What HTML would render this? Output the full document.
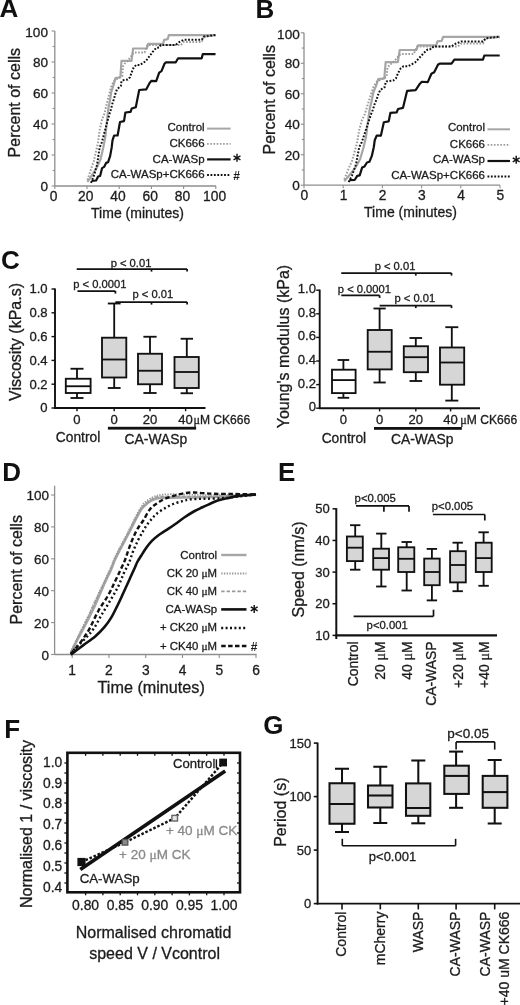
<!DOCTYPE html><html><head><meta charset="utf-8"><style>html,body{margin:0;padding:0;background:#fff;}svg{display:block;font-family:'Liberation Sans', sans-serif;filter:grayscale(100%);}text{stroke-width:0.3px;}</style></head><body>
<svg width="520" height="1005" viewBox="0 0 520 1005">
<rect width="520" height="1005" fill="#fff"/>
<text x="-0.4" y="17.3" font-size="26" text-anchor="start" fill="#111" font-weight="bold" >A</text>
<text transform="translate(19.6,102.7) rotate(-90)" font-size="16" text-anchor="middle" fill="#1c1c1c" stroke="#1c1c1c" >Percent of cells</text>
<line x1="54.8" y1="31" x2="54.8" y2="186" stroke="#8e8e8e" stroke-width="1.3" />
<line x1="54.8" y1="186" x2="216" y2="186" stroke="#8e8e8e" stroke-width="1.3" />
<line x1="51.6" y1="186" x2="54.8" y2="186" stroke="#8e8e8e" stroke-width="1.1" />
<text x="48" y="190.7" font-size="13.6" text-anchor="end" fill="#1c1c1c" stroke="#1c1c1c" font-weight="normal" >0</text>
<line x1="52.6" y1="170.5" x2="54.8" y2="170.5" stroke="#8e8e8e" stroke-width="1.1" />
<line x1="51.6" y1="155" x2="54.8" y2="155" stroke="#8e8e8e" stroke-width="1.1" />
<text x="48" y="159.7" font-size="13.6" text-anchor="end" fill="#1c1c1c" stroke="#1c1c1c" font-weight="normal" >20</text>
<line x1="52.6" y1="139.5" x2="54.8" y2="139.5" stroke="#8e8e8e" stroke-width="1.1" />
<line x1="51.6" y1="124" x2="54.8" y2="124" stroke="#8e8e8e" stroke-width="1.1" />
<text x="48" y="128.7" font-size="13.6" text-anchor="end" fill="#1c1c1c" stroke="#1c1c1c" font-weight="normal" >40</text>
<line x1="52.6" y1="108.5" x2="54.8" y2="108.5" stroke="#8e8e8e" stroke-width="1.1" />
<line x1="51.6" y1="93" x2="54.8" y2="93" stroke="#8e8e8e" stroke-width="1.1" />
<text x="48" y="97.7" font-size="13.6" text-anchor="end" fill="#1c1c1c" stroke="#1c1c1c" font-weight="normal" >60</text>
<line x1="52.6" y1="77.5" x2="54.8" y2="77.5" stroke="#8e8e8e" stroke-width="1.1" />
<line x1="51.6" y1="62" x2="54.8" y2="62" stroke="#8e8e8e" stroke-width="1.1" />
<text x="48" y="66.7" font-size="13.6" text-anchor="end" fill="#1c1c1c" stroke="#1c1c1c" font-weight="normal" >80</text>
<line x1="52.6" y1="46.5" x2="54.8" y2="46.5" stroke="#8e8e8e" stroke-width="1.1" />
<line x1="51.6" y1="31" x2="54.8" y2="31" stroke="#8e8e8e" stroke-width="1.1" />
<text x="48" y="37" font-size="13.6" text-anchor="end" fill="#1c1c1c" stroke="#1c1c1c" font-weight="normal" >100</text>
<line x1="54.8" y1="186" x2="54.8" y2="189" stroke="#8e8e8e" stroke-width="1.1" />
<text x="53.6" y="200.9" font-size="13.8" text-anchor="middle" fill="#1c1c1c" stroke="#1c1c1c" font-weight="normal" >0</text>
<line x1="87" y1="186" x2="87" y2="189" stroke="#8e8e8e" stroke-width="1.1" />
<text x="85.8" y="200.9" font-size="13.8" text-anchor="middle" fill="#1c1c1c" stroke="#1c1c1c" font-weight="normal" >20</text>
<line x1="119.2" y1="186" x2="119.2" y2="189" stroke="#8e8e8e" stroke-width="1.1" />
<text x="118" y="200.9" font-size="13.8" text-anchor="middle" fill="#1c1c1c" stroke="#1c1c1c" font-weight="normal" >40</text>
<line x1="151.4" y1="186" x2="151.4" y2="189" stroke="#8e8e8e" stroke-width="1.1" />
<text x="150.2" y="200.9" font-size="13.8" text-anchor="middle" fill="#1c1c1c" stroke="#1c1c1c" font-weight="normal" >60</text>
<line x1="183.6" y1="186" x2="183.6" y2="189" stroke="#8e8e8e" stroke-width="1.1" />
<text x="182.4" y="200.9" font-size="13.8" text-anchor="middle" fill="#1c1c1c" stroke="#1c1c1c" font-weight="normal" >80</text>
<line x1="215.8" y1="186" x2="215.8" y2="189" stroke="#8e8e8e" stroke-width="1.1" />
<text x="214.6" y="200.9" font-size="13.8" text-anchor="middle" fill="#1c1c1c" stroke="#1c1c1c" font-weight="normal" >100</text>
<text x="137.5" y="217.5" font-size="14" text-anchor="middle" fill="#1c1c1c" stroke="#1c1c1c" font-weight="normal" >Time (minutes)</text>
<polyline points="87.4,182 93,173.7 97,167.3 100.5,159.4 103.3,147.4 105.3,137 107,120.3 108.4,108.1 109.8,101.2 111.3,91.9 113.6,85 115.4,78 120.4,77.3 121.5,60.8 131.5,60.8 133.1,48.5 146.9,48.5 148.1,43.8 163.1,43.8 164.2,39.8 167.7,39.2 168.8,35.2 215.5,35.2" fill="none" stroke="#a6a6a6" stroke-width="2.2" stroke-linejoin="round" />
<polyline points="87.4,180 93.8,161 97.7,144.2 99.7,130 102,119.6 104.3,113.9 106.5,105 109,95 111.5,86 112.7,83.5 114.6,80.4 118,78.5 122.3,75.8 123,66.5 124.8,63.5 127.7,61 133.5,53 134.2,52.5 144.6,52.5 147.5,45 181,45 183.8,41.9 201.7,41.9 203.9,36.6 215.5,35.5" fill="none" stroke="#9a9a9a" stroke-width="2.0" stroke-linejoin="round" stroke-dasharray="1.6 1.6"/>
<polyline points="91.5,180.8 96.1,180.5 98.1,176.5 100.1,176 102.1,168.1 104.1,166.9 106.1,162.9 108.1,162.2 110.1,156.2 111.7,147.4 112.5,140.3 114.1,135.5 117.6,135.5 120,122 124,121.1 125.4,112.5 130.6,111.9 131.7,108.5 135.8,107.3 139.2,90 146.2,89.4 149.6,83 151.3,80.8 156.2,81.2 159.2,72.7 161.5,71.2 164.6,63.5 166,62.3 175.8,62.3 178.1,58.3 201.7,58.3 202.8,54.1 215.5,54.1" fill="none" stroke="#111" stroke-width="2.2" stroke-linejoin="round" />
<polyline points="91,182.9 93.8,176 97,165 99.7,147.4 101.7,142.6 104.1,133.9 107.5,121 109.3,114.4 111,109.2 112.4,103.5 114.2,98.3 115,94.8 117,89.3 120.8,86 121.5,81.2 122.3,80.4 127.7,79.6 130,77.3 131.5,72.7 133.8,67.3 136.2,65 140,65 145.8,61.1 152.7,51.9 156.1,47.9 159.6,47.3 160.8,45 175.8,45 178.1,42.7 183.8,39.8 201.7,39.8 203.9,36.6 215.5,35" fill="none" stroke="#111" stroke-width="2.0" stroke-linejoin="round" stroke-dasharray="1.8 1.6"/>
<text x="204.6" y="131" font-size="11.5" text-anchor="end" fill="#1c1c1c" stroke="#1c1c1c" font-weight="normal" >Control</text>
<text x="204.6" y="147.1" font-size="11.5" text-anchor="end" fill="#1c1c1c" stroke="#1c1c1c" font-weight="normal" >CK666</text>
<text x="204.6" y="163" font-size="11.5" text-anchor="end" fill="#1c1c1c" stroke="#1c1c1c" font-weight="normal" >CA-WASp</text>
<text x="204.6" y="177.6" font-size="11.5" text-anchor="end" fill="#1c1c1c" stroke="#1c1c1c" font-weight="normal" >CA-WASp+CK666</text>
<line x1="207.1" y1="128.6" x2="230.6" y2="128.6" stroke="#a6a6a6" stroke-width="2" />
<line x1="207.1" y1="143.9" x2="230.6" y2="143.9" stroke="#9a9a9a" stroke-width="1.8" stroke-dasharray="1.6 1.6"/>
<line x1="207.1" y1="159.4" x2="230.6" y2="159.4" stroke="#111" stroke-width="2.2" />
<line x1="207.1" y1="175" x2="230.6" y2="175" stroke="#111" stroke-width="2.0" stroke-dasharray="1.8 1.6"/>
<line x1="237" y1="153.8" x2="237" y2="161.8" stroke="#111" stroke-width="1.45" stroke-linecap="butt"/>
<line x1="233.54" y1="155.8" x2="240.46" y2="159.8" stroke="#111" stroke-width="1.45" stroke-linecap="butt"/>
<line x1="233.54" y1="159.8" x2="240.46" y2="155.8" stroke="#111" stroke-width="1.45" stroke-linecap="butt"/>
<text x="233.3" y="180.4" font-size="12" text-anchor="start" fill="#1c1c1c" font-weight="bold" >#</text>
<text x="255.6" y="17.7" font-size="26" text-anchor="start" fill="#111" font-weight="bold" >B</text>
<text transform="translate(274.5,99.8) rotate(-90)" font-size="16" text-anchor="middle" fill="#1c1c1c" stroke="#1c1c1c" >Percent of cells</text>
<line x1="304" y1="32.8" x2="304" y2="185.2" stroke="#8e8e8e" stroke-width="1.3" />
<line x1="304" y1="185.2" x2="500" y2="185.2" stroke="#8e8e8e" stroke-width="1.3" />
<line x1="300.8" y1="185.2" x2="304" y2="185.2" stroke="#8e8e8e" stroke-width="1.1" />
<text x="299.8" y="190.1" font-size="13.6" text-anchor="end" fill="#1c1c1c" stroke="#1c1c1c" font-weight="normal" >0</text>
<line x1="301.8" y1="169.96" x2="304" y2="169.96" stroke="#8e8e8e" stroke-width="1.1" />
<line x1="300.8" y1="154.72" x2="304" y2="154.72" stroke="#8e8e8e" stroke-width="1.1" />
<text x="299.8" y="159.62" font-size="13.6" text-anchor="end" fill="#1c1c1c" stroke="#1c1c1c" font-weight="normal" >20</text>
<line x1="301.8" y1="139.48" x2="304" y2="139.48" stroke="#8e8e8e" stroke-width="1.1" />
<line x1="300.8" y1="124.24" x2="304" y2="124.24" stroke="#8e8e8e" stroke-width="1.1" />
<text x="299.8" y="129.14" font-size="13.6" text-anchor="end" fill="#1c1c1c" stroke="#1c1c1c" font-weight="normal" >40</text>
<line x1="301.8" y1="109" x2="304" y2="109" stroke="#8e8e8e" stroke-width="1.1" />
<line x1="300.8" y1="93.76" x2="304" y2="93.76" stroke="#8e8e8e" stroke-width="1.1" />
<text x="299.8" y="98.66" font-size="13.6" text-anchor="end" fill="#1c1c1c" stroke="#1c1c1c" font-weight="normal" >60</text>
<line x1="301.8" y1="78.52" x2="304" y2="78.52" stroke="#8e8e8e" stroke-width="1.1" />
<line x1="300.8" y1="63.28" x2="304" y2="63.28" stroke="#8e8e8e" stroke-width="1.1" />
<text x="299.8" y="68.18" font-size="13.6" text-anchor="end" fill="#1c1c1c" stroke="#1c1c1c" font-weight="normal" >80</text>
<line x1="301.8" y1="48.04" x2="304" y2="48.04" stroke="#8e8e8e" stroke-width="1.1" />
<line x1="300.8" y1="32.8" x2="304" y2="32.8" stroke="#8e8e8e" stroke-width="1.1" />
<text x="299.8" y="39" font-size="13.6" text-anchor="end" fill="#1c1c1c" stroke="#1c1c1c" font-weight="normal" >100</text>
<line x1="304" y1="185.2" x2="304" y2="188.2" stroke="#8e8e8e" stroke-width="1.1" />
<text x="304.3" y="200.1" font-size="13.8" text-anchor="middle" fill="#1c1c1c" stroke="#1c1c1c" font-weight="normal" >0</text>
<line x1="343.2" y1="185.2" x2="343.2" y2="188.2" stroke="#8e8e8e" stroke-width="1.1" />
<text x="343.5" y="200.1" font-size="13.8" text-anchor="middle" fill="#1c1c1c" stroke="#1c1c1c" font-weight="normal" >1</text>
<line x1="382.4" y1="185.2" x2="382.4" y2="188.2" stroke="#8e8e8e" stroke-width="1.1" />
<text x="382.7" y="200.1" font-size="13.8" text-anchor="middle" fill="#1c1c1c" stroke="#1c1c1c" font-weight="normal" >2</text>
<line x1="421.6" y1="185.2" x2="421.6" y2="188.2" stroke="#8e8e8e" stroke-width="1.1" />
<text x="421.9" y="200.1" font-size="13.8" text-anchor="middle" fill="#1c1c1c" stroke="#1c1c1c" font-weight="normal" >3</text>
<line x1="460.8" y1="185.2" x2="460.8" y2="188.2" stroke="#8e8e8e" stroke-width="1.1" />
<text x="461.1" y="200.1" font-size="13.8" text-anchor="middle" fill="#1c1c1c" stroke="#1c1c1c" font-weight="normal" >4</text>
<line x1="500" y1="185.2" x2="500" y2="188.2" stroke="#8e8e8e" stroke-width="1.1" />
<text x="500.3" y="200.1" font-size="13.8" text-anchor="middle" fill="#1c1c1c" stroke="#1c1c1c" font-weight="normal" >5</text>
<text x="410.5" y="216.5" font-size="14" text-anchor="middle" fill="#1c1c1c" stroke="#1c1c1c" font-weight="normal" >Time (minutes)</text>
<polyline points="344.28,181.27 351.08,173.11 355.93,166.81 360.18,159.05 363.58,147.25 366,137.02 368.07,120.6 369.76,108.61 371.46,101.82 373.28,92.68 376.07,85.89 378.26,79.01 384.32,78.32 385.66,62.1 397.79,62.1 399.73,50.01 416.48,50.01 417.93,45.39 436.13,45.39 437.47,41.45 441.72,40.86 443.05,36.93 499.71,36.93" fill="none" stroke="#a6a6a6" stroke-width="2.2" stroke-linejoin="round" />
<polyline points="344.28,179.3 352.05,160.62 356.78,144.1 359.21,130.14 362,119.91 364.79,114.31 367.46,105.56 370.49,95.73 373.53,86.88 374.98,84.42 377.29,81.37 381.41,79.5 386.63,76.85 387.48,67.7 389.66,64.75 393.18,62.3 400.22,54.43 401.07,53.94 413.69,53.94 417.21,46.57 457.85,46.57 461.25,43.52 482.97,43.52 485.64,38.31 499.71,37.22" fill="none" stroke="#9a9a9a" stroke-width="2.0" stroke-linejoin="round" stroke-dasharray="1.6 1.6"/>
<polyline points="349.26,180.09 354.84,179.79 357.27,175.86 359.69,175.37 362.12,167.6 364.55,166.42 366.97,162.49 369.4,161.8 371.83,155.9 373.77,147.25 374.74,140.27 376.68,135.55 380.93,135.55 383.84,122.27 388.69,121.39 390.39,112.93 396.7,112.34 398.04,109 403.01,107.82 407.14,90.81 415.63,90.22 419.75,83.93 421.82,81.76 427.76,82.16 431.4,73.8 434.19,72.33 437.95,64.75 439.65,63.57 451.54,63.57 454.34,59.64 482.97,59.64 484.31,55.51 499.71,55.51" fill="none" stroke="#111" stroke-width="2.2" stroke-linejoin="round" />
<polyline points="348.65,182.15 352.05,175.37 355.93,164.55 359.21,147.25 361.63,142.53 364.55,133.97 368.67,121.29 370.86,114.8 372.92,109.69 374.62,104.08 376.8,98.97 377.77,95.53 380.2,90.12 384.81,86.88 385.66,82.16 386.63,81.37 393.18,80.58 395.97,78.32 397.79,73.8 400.58,68.49 403.5,66.23 408.11,66.23 415.14,62.4 423.52,53.35 427.64,49.42 431.89,48.83 433.34,46.57 451.54,46.57 454.34,44.3 461.25,41.45 482.97,41.45 485.64,38.31 499.71,36.73" fill="none" stroke="#111" stroke-width="2.0" stroke-linejoin="round" stroke-dasharray="1.8 1.6"/>
<text x="485" y="131.1" font-size="11.5" text-anchor="end" fill="#1c1c1c" stroke="#1c1c1c" font-weight="normal" >Control</text>
<text x="485" y="147.5" font-size="11.5" text-anchor="end" fill="#1c1c1c" stroke="#1c1c1c" font-weight="normal" >CK666</text>
<text x="485" y="163" font-size="11.5" text-anchor="end" fill="#1c1c1c" stroke="#1c1c1c" font-weight="normal" >CA-WASp</text>
<text x="485" y="178.6" font-size="11.5" text-anchor="end" fill="#1c1c1c" stroke="#1c1c1c" font-weight="normal" >CA-WASp+CK666</text>
<line x1="487.5" y1="129.3" x2="510" y2="129.3" stroke="#a6a6a6" stroke-width="2" />
<line x1="487.5" y1="144.9" x2="510" y2="144.9" stroke="#9a9a9a" stroke-width="1.8" stroke-dasharray="1.6 1.6"/>
<line x1="487.5" y1="161" x2="510" y2="161" stroke="#111" stroke-width="2.2" />
<line x1="487.5" y1="176.6" x2="510" y2="176.6" stroke="#111" stroke-width="2.0" stroke-dasharray="1.8 1.6"/>
<line x1="516.2" y1="155.8" x2="516.2" y2="163.8" stroke="#111" stroke-width="1.45" stroke-linecap="butt"/>
<line x1="512.74" y1="157.8" x2="519.66" y2="161.8" stroke="#111" stroke-width="1.45" stroke-linecap="butt"/>
<line x1="512.74" y1="161.8" x2="519.66" y2="157.8" stroke="#111" stroke-width="1.45" stroke-linecap="butt"/>
<text x="1" y="268.5" font-size="26" text-anchor="start" fill="#111" font-weight="bold" >C</text>
<text transform="translate(20.6,342) rotate(-90)" font-size="16" text-anchor="middle" fill="#1c1c1c" stroke="#1c1c1c" >Viscosity (kPa.s)</text>
<line x1="55" y1="288.4" x2="55" y2="408.8" stroke="#111" stroke-width="1.9" />
<line x1="54.2" y1="408" x2="205.5" y2="408" stroke="#111" stroke-width="1.9" />
<line x1="51.5" y1="408" x2="55" y2="408" stroke="#111" stroke-width="1.4" />
<text x="47.6" y="412.4" font-size="13.1" text-anchor="end" fill="#1c1c1c" stroke="#1c1c1c" font-weight="normal" >0</text>
<line x1="51.5" y1="384.2" x2="55" y2="384.2" stroke="#111" stroke-width="1.4" />
<text x="47.6" y="388.6" font-size="13.1" text-anchor="end" fill="#1c1c1c" stroke="#1c1c1c" font-weight="normal" >0.2</text>
<line x1="51.5" y1="360.4" x2="55" y2="360.4" stroke="#111" stroke-width="1.4" />
<text x="47.6" y="364.8" font-size="13.1" text-anchor="end" fill="#1c1c1c" stroke="#1c1c1c" font-weight="normal" >0.4</text>
<line x1="51.5" y1="336.6" x2="55" y2="336.6" stroke="#111" stroke-width="1.4" />
<text x="47.6" y="341" font-size="13.1" text-anchor="end" fill="#1c1c1c" stroke="#1c1c1c" font-weight="normal" >0.6</text>
<line x1="51.5" y1="312.8" x2="55" y2="312.8" stroke="#111" stroke-width="1.4" />
<text x="47.6" y="317.2" font-size="13.1" text-anchor="end" fill="#1c1c1c" stroke="#1c1c1c" font-weight="normal" >0.8</text>
<line x1="51.5" y1="289" x2="55" y2="289" stroke="#111" stroke-width="1.4" />
<text x="47.6" y="293.4" font-size="13.1" text-anchor="end" fill="#1c1c1c" stroke="#1c1c1c" font-weight="normal" >1.0</text>
<line x1="77" y1="368.75" x2="77" y2="378.75" stroke="#111" stroke-width="1.85" />
<line x1="77" y1="393" x2="77" y2="398" stroke="#111" stroke-width="1.85" />
<line x1="70.5" y1="368.75" x2="83.5" y2="368.75" stroke="#111" stroke-width="1.85" />
<line x1="70.5" y1="398" x2="83.5" y2="398" stroke="#111" stroke-width="1.85" />
<rect x="65.8" y="378.75" width="24.8" height="14.25" fill="#fff" stroke="#111" stroke-width="1.85"/>
<line x1="65.8" y1="386.25" x2="90.6" y2="386.25" stroke="#111" stroke-width="1.85" />
<line x1="114.2" y1="303.5" x2="114.2" y2="337.7" stroke="#111" stroke-width="1.85" />
<line x1="114.2" y1="377.5" x2="114.2" y2="388" stroke="#111" stroke-width="1.85" />
<line x1="107.8" y1="303.5" x2="120.6" y2="303.5" stroke="#111" stroke-width="1.85" />
<line x1="107.8" y1="388" x2="120.6" y2="388" stroke="#111" stroke-width="1.85" />
<rect x="102" y="337.7" width="24.3" height="39.8" fill="#d6d6d6" stroke="#111" stroke-width="1.85"/>
<line x1="102" y1="359.5" x2="126.3" y2="359.5" stroke="#111" stroke-width="1.85" />
<line x1="150" y1="336.75" x2="150" y2="353.75" stroke="#111" stroke-width="1.85" />
<line x1="150" y1="384.25" x2="150" y2="393" stroke="#111" stroke-width="1.85" />
<line x1="143.4" y1="336.75" x2="156.6" y2="336.75" stroke="#111" stroke-width="1.85" />
<line x1="143.4" y1="393" x2="156.6" y2="393" stroke="#111" stroke-width="1.85" />
<rect x="138" y="353.75" width="24" height="30.5" fill="#d6d6d6" stroke="#111" stroke-width="1.85"/>
<line x1="138" y1="370.75" x2="162" y2="370.75" stroke="#111" stroke-width="1.85" />
<line x1="186.8" y1="338.75" x2="186.8" y2="357" stroke="#111" stroke-width="1.85" />
<line x1="186.8" y1="388" x2="186.8" y2="393.25" stroke="#111" stroke-width="1.85" />
<line x1="180.6" y1="338.75" x2="193" y2="338.75" stroke="#111" stroke-width="1.85" />
<line x1="180.6" y1="393.25" x2="193" y2="393.25" stroke="#111" stroke-width="1.85" />
<rect x="174.5" y="357" width="24.3" height="31" fill="#d6d6d6" stroke="#111" stroke-width="1.85"/>
<line x1="174.5" y1="372" x2="198.8" y2="372" stroke="#111" stroke-width="1.85" />
<line x1="77" y1="408" x2="77" y2="411.2" stroke="#111" stroke-width="1.4" />
<text x="77" y="424" font-size="13.1" text-anchor="middle" fill="#1c1c1c" stroke="#1c1c1c" font-weight="normal" >0</text>
<line x1="114.2" y1="408" x2="114.2" y2="411.2" stroke="#111" stroke-width="1.4" />
<text x="114.2" y="424" font-size="13.1" text-anchor="middle" fill="#1c1c1c" stroke="#1c1c1c" font-weight="normal" >0</text>
<line x1="150" y1="408" x2="150" y2="411.2" stroke="#111" stroke-width="1.4" />
<text x="150" y="424" font-size="13.1" text-anchor="middle" fill="#1c1c1c" stroke="#1c1c1c" font-weight="normal" >20</text>
<line x1="185.6" y1="408" x2="185.6" y2="411.2" stroke="#111" stroke-width="1.4" />
<text x="185.6" y="424" font-size="13.1" text-anchor="middle" fill="#1c1c1c" stroke="#1c1c1c" font-weight="normal" >40</text>
<text x="193.4" y="424" font-size="12.1" text-anchor="start" fill="#1c1c1c" stroke="#1c1c1c" font-weight="normal" ><tspan font-family="Liberation Serif">μ</tspan>M CK666</text>
<rect x="107.9" y="426.8" width="88.2" height="2.8" fill="#111"/>
<text x="78" y="442.3" font-size="13.8" text-anchor="middle" fill="#1c1c1c" stroke="#1c1c1c" font-weight="normal" >Control</text>
<text x="155.9" y="443.8" font-size="13.85" text-anchor="middle" fill="#1c1c1c" stroke="#1c1c1c" font-weight="normal" >CA-WASp</text>
<line x1="76.7" y1="269" x2="187.1" y2="269" stroke="#111" stroke-width="1.75" />
<line x1="151.5" y1="269" x2="151.5" y2="271.6" stroke="#111" stroke-width="1.75" />
<line x1="187.1" y1="269" x2="187.1" y2="271.6" stroke="#111" stroke-width="1.75" />
<line x1="77.5" y1="291" x2="115.4" y2="291" stroke="#111" stroke-width="1.75" />
<line x1="115.4" y1="291" x2="115.4" y2="293.6" stroke="#111" stroke-width="1.75" />
<line x1="115.4" y1="302" x2="187.1" y2="302" stroke="#111" stroke-width="1.75" />
<line x1="151.5" y1="302" x2="151.5" y2="304.6" stroke="#111" stroke-width="1.75" />
<line x1="187.1" y1="302" x2="187.1" y2="304.6" stroke="#111" stroke-width="1.75" />
<text x="131" y="267.3" font-size="11.2" text-anchor="middle" fill="#1c1c1c" stroke="#1c1c1c" font-weight="normal" >p &lt; 0.01</text>
<text x="99.8" y="288.2" font-size="11.2" text-anchor="middle" fill="#1c1c1c" stroke="#1c1c1c" font-weight="normal" >p &lt; 0.0001</text>
<text x="152.9" y="298.2" font-size="11.2" text-anchor="middle" fill="#1c1c1c" stroke="#1c1c1c" font-weight="normal" >p &lt; 0.01</text>
<text transform="translate(289.2,346.6) rotate(-90)" font-size="16" text-anchor="middle" fill="#1c1c1c" stroke="#1c1c1c" >Young's modulus (kPa)</text>
<line x1="319.7" y1="289.6" x2="319.7" y2="409" stroke="#111" stroke-width="1.9" />
<line x1="318.9" y1="408.2" x2="480" y2="408.2" stroke="#111" stroke-width="1.9" />
<line x1="316.2" y1="408.2" x2="319.7" y2="408.2" stroke="#111" stroke-width="1.4" />
<text x="316" y="411.2" font-size="13.1" text-anchor="end" fill="#1c1c1c" stroke="#1c1c1c" font-weight="normal" >0</text>
<line x1="316.2" y1="384.6" x2="319.7" y2="384.6" stroke="#111" stroke-width="1.4" />
<text x="316" y="387.6" font-size="13.1" text-anchor="end" fill="#1c1c1c" stroke="#1c1c1c" font-weight="normal" >0.2</text>
<line x1="316.2" y1="361" x2="319.7" y2="361" stroke="#111" stroke-width="1.4" />
<text x="316" y="364" font-size="13.1" text-anchor="end" fill="#1c1c1c" stroke="#1c1c1c" font-weight="normal" >0.4</text>
<line x1="316.2" y1="337.4" x2="319.7" y2="337.4" stroke="#111" stroke-width="1.4" />
<text x="316" y="340.4" font-size="13.1" text-anchor="end" fill="#1c1c1c" stroke="#1c1c1c" font-weight="normal" >0.6</text>
<line x1="316.2" y1="313.8" x2="319.7" y2="313.8" stroke="#111" stroke-width="1.4" />
<text x="316" y="316.8" font-size="13.1" text-anchor="end" fill="#1c1c1c" stroke="#1c1c1c" font-weight="normal" >0.8</text>
<line x1="316.2" y1="290.2" x2="319.7" y2="290.2" stroke="#111" stroke-width="1.4" />
<text x="316" y="293.2" font-size="13.1" text-anchor="end" fill="#1c1c1c" stroke="#1c1c1c" font-weight="normal" >1.0</text>
<line x1="343.4" y1="360" x2="343.4" y2="369.7" stroke="#111" stroke-width="1.85" />
<line x1="343.4" y1="393.1" x2="343.4" y2="397.8" stroke="#111" stroke-width="1.85" />
<line x1="337.6" y1="360" x2="349.2" y2="360" stroke="#111" stroke-width="1.85" />
<line x1="337.6" y1="397.8" x2="349.2" y2="397.8" stroke="#111" stroke-width="1.85" />
<rect x="332" y="369.7" width="23.6" height="23.4" fill="#fff" stroke="#111" stroke-width="1.85"/>
<line x1="332" y1="380.1" x2="355.6" y2="380.1" stroke="#111" stroke-width="1.85" />
<line x1="379.6" y1="308.5" x2="379.6" y2="330" stroke="#111" stroke-width="1.85" />
<line x1="379.6" y1="369.4" x2="379.6" y2="382.5" stroke="#111" stroke-width="1.85" />
<line x1="373.5" y1="308.5" x2="385.7" y2="308.5" stroke="#111" stroke-width="1.85" />
<line x1="373.5" y1="382.5" x2="385.7" y2="382.5" stroke="#111" stroke-width="1.85" />
<rect x="367.7" y="330" width="24" height="39.4" fill="#d6d6d6" stroke="#111" stroke-width="1.85"/>
<line x1="367.7" y1="351.75" x2="391.7" y2="351.75" stroke="#111" stroke-width="1.85" />
<line x1="415.8" y1="338" x2="415.8" y2="346.25" stroke="#111" stroke-width="1.85" />
<line x1="415.8" y1="372.2" x2="415.8" y2="381" stroke="#111" stroke-width="1.85" />
<line x1="409.5" y1="338" x2="422.1" y2="338" stroke="#111" stroke-width="1.85" />
<line x1="409.5" y1="381" x2="422.1" y2="381" stroke="#111" stroke-width="1.85" />
<rect x="403.8" y="346.25" width="24.2" height="25.95" fill="#d6d6d6" stroke="#111" stroke-width="1.85"/>
<line x1="403.8" y1="357.2" x2="428" y2="357.2" stroke="#111" stroke-width="1.85" />
<line x1="451.8" y1="327.2" x2="451.8" y2="347.5" stroke="#111" stroke-width="1.85" />
<line x1="451.8" y1="384.7" x2="451.8" y2="400.6" stroke="#111" stroke-width="1.85" />
<line x1="445.3" y1="327.2" x2="458.3" y2="327.2" stroke="#111" stroke-width="1.85" />
<line x1="445.3" y1="400.6" x2="458.3" y2="400.6" stroke="#111" stroke-width="1.85" />
<rect x="440" y="347.5" width="24.2" height="37.2" fill="#d6d6d6" stroke="#111" stroke-width="1.85"/>
<line x1="440" y1="362.5" x2="464.2" y2="362.5" stroke="#111" stroke-width="1.85" />
<line x1="343.4" y1="408.2" x2="343.4" y2="411.4" stroke="#111" stroke-width="1.4" />
<text x="343.4" y="424.2" font-size="13.1" text-anchor="middle" fill="#1c1c1c" stroke="#1c1c1c" font-weight="normal" >0</text>
<line x1="379.6" y1="408.2" x2="379.6" y2="411.4" stroke="#111" stroke-width="1.4" />
<text x="379.6" y="424.2" font-size="13.1" text-anchor="middle" fill="#1c1c1c" stroke="#1c1c1c" font-weight="normal" >0</text>
<line x1="415.8" y1="408.2" x2="415.8" y2="411.4" stroke="#111" stroke-width="1.4" />
<text x="415.8" y="424.2" font-size="13.1" text-anchor="middle" fill="#1c1c1c" stroke="#1c1c1c" font-weight="normal" >20</text>
<line x1="450.6" y1="408.2" x2="450.6" y2="411.4" stroke="#111" stroke-width="1.4" />
<text x="450.6" y="424.2" font-size="13.1" text-anchor="middle" fill="#1c1c1c" stroke="#1c1c1c" font-weight="normal" >40</text>
<text x="460.3" y="424.2" font-size="12.1" text-anchor="start" fill="#1c1c1c" stroke="#1c1c1c" font-weight="normal" ><tspan font-family="Liberation Serif">μ</tspan>M CK666</text>
<rect x="374" y="427" width="87.8" height="2.8" fill="#111"/>
<text x="343.9" y="442.5" font-size="13.8" text-anchor="middle" fill="#1c1c1c" stroke="#1c1c1c" font-weight="normal" >Control</text>
<text x="422.2" y="444" font-size="13.85" text-anchor="middle" fill="#1c1c1c" stroke="#1c1c1c" font-weight="normal" >CA-WASp</text>
<line x1="341.25" y1="273" x2="451.5" y2="273" stroke="#111" stroke-width="1.75" />
<line x1="415.8" y1="273" x2="415.8" y2="275.6" stroke="#111" stroke-width="1.75" />
<line x1="451.5" y1="273" x2="451.5" y2="275.6" stroke="#111" stroke-width="1.75" />
<line x1="341.25" y1="295.3" x2="379.6" y2="295.3" stroke="#111" stroke-width="1.75" />
<line x1="379.6" y1="295.3" x2="379.6" y2="297.9" stroke="#111" stroke-width="1.75" />
<line x1="379.6" y1="305.5" x2="451.5" y2="305.5" stroke="#111" stroke-width="1.75" />
<line x1="415.8" y1="305.5" x2="415.8" y2="308.1" stroke="#111" stroke-width="1.75" />
<line x1="451.5" y1="305.5" x2="451.5" y2="308.1" stroke="#111" stroke-width="1.75" />
<text x="395" y="269.8" font-size="11.2" text-anchor="middle" fill="#1c1c1c" stroke="#1c1c1c" font-weight="normal" >p &lt; 0.01</text>
<text x="364.4" y="292.6" font-size="11.2" text-anchor="middle" fill="#1c1c1c" stroke="#1c1c1c" font-weight="normal" >p &lt; 0.0001</text>
<text x="414.8" y="302" font-size="11.2" text-anchor="middle" fill="#1c1c1c" stroke="#1c1c1c" font-weight="normal" >p &lt; 0.01</text>
<text x="2.3" y="480.8" font-size="26" text-anchor="start" fill="#111" font-weight="bold" >D</text>
<text transform="translate(22,569.8) rotate(-90)" font-size="16" text-anchor="middle" fill="#1c1c1c" stroke="#1c1c1c" >Percent of cells</text>
<line x1="54.6" y1="485.8" x2="54.6" y2="654.5" stroke="#8e8e8e" stroke-width="1.3" />
<line x1="54.6" y1="654.5" x2="256.5" y2="654.5" stroke="#8e8e8e" stroke-width="1.3" />
<line x1="51.1" y1="654.5" x2="54.6" y2="654.5" stroke="#8e8e8e" stroke-width="1.1" />
<text x="49.1" y="659.7" font-size="13.5" text-anchor="end" fill="#1c1c1c" stroke="#1c1c1c" font-weight="normal" >0</text>
<line x1="51.1" y1="622.6" x2="54.6" y2="622.6" stroke="#8e8e8e" stroke-width="1.1" />
<text x="49.1" y="627.8" font-size="13.5" text-anchor="end" fill="#1c1c1c" stroke="#1c1c1c" font-weight="normal" >20</text>
<line x1="51.1" y1="590.7" x2="54.6" y2="590.7" stroke="#8e8e8e" stroke-width="1.1" />
<text x="49.1" y="595.9" font-size="13.5" text-anchor="end" fill="#1c1c1c" stroke="#1c1c1c" font-weight="normal" >40</text>
<line x1="51.1" y1="558.8" x2="54.6" y2="558.8" stroke="#8e8e8e" stroke-width="1.1" />
<text x="49.1" y="564" font-size="13.5" text-anchor="end" fill="#1c1c1c" stroke="#1c1c1c" font-weight="normal" >60</text>
<line x1="51.1" y1="526.9" x2="54.6" y2="526.9" stroke="#8e8e8e" stroke-width="1.1" />
<text x="49.1" y="532.1" font-size="13.5" text-anchor="end" fill="#1c1c1c" stroke="#1c1c1c" font-weight="normal" >80</text>
<line x1="51.1" y1="495" x2="54.6" y2="495" stroke="#8e8e8e" stroke-width="1.1" />
<text x="49.1" y="500.2" font-size="13.5" text-anchor="end" fill="#1c1c1c" stroke="#1c1c1c" font-weight="normal" >100</text>
<line x1="72.2" y1="654.5" x2="72.2" y2="658" stroke="#8e8e8e" stroke-width="1.1" />
<text x="72.2" y="675" font-size="13.8" text-anchor="middle" fill="#1c1c1c" stroke="#1c1c1c" font-weight="normal" >1</text>
<line x1="108.96" y1="654.5" x2="108.96" y2="658" stroke="#8e8e8e" stroke-width="1.1" />
<text x="108.96" y="675" font-size="13.8" text-anchor="middle" fill="#1c1c1c" stroke="#1c1c1c" font-weight="normal" >2</text>
<line x1="145.72" y1="654.5" x2="145.72" y2="658" stroke="#8e8e8e" stroke-width="1.1" />
<text x="145.72" y="675" font-size="13.8" text-anchor="middle" fill="#1c1c1c" stroke="#1c1c1c" font-weight="normal" >3</text>
<line x1="182.48" y1="654.5" x2="182.48" y2="658" stroke="#8e8e8e" stroke-width="1.1" />
<text x="182.48" y="675" font-size="13.8" text-anchor="middle" fill="#1c1c1c" stroke="#1c1c1c" font-weight="normal" >4</text>
<line x1="219.24" y1="654.5" x2="219.24" y2="658" stroke="#8e8e8e" stroke-width="1.1" />
<text x="219.24" y="675" font-size="13.8" text-anchor="middle" fill="#1c1c1c" stroke="#1c1c1c" font-weight="normal" >5</text>
<line x1="256" y1="654.5" x2="256" y2="658" stroke="#8e8e8e" stroke-width="1.1" />
<text x="256" y="675" font-size="13.8" text-anchor="middle" fill="#1c1c1c" stroke="#1c1c1c" font-weight="normal" >6</text>
<text x="151.2" y="693.3" font-size="16.2" text-anchor="middle" fill="#1c1c1c" stroke="#1c1c1c" font-weight="normal" >Time (minutes)</text>
<path d="M70.8,653 C72.05,650.5 75.68,643.08 78.3,638 C80.92,632.92 83.63,628.13 86.5,622.5 C89.37,616.87 92.55,610.62 95.5,604.2 C98.45,597.78 101.62,589.77 104.2,584 C106.78,578.23 109.23,573.6 111,569.6 C112.77,565.6 113.27,563.4 114.8,560 C116.33,556.6 118.17,553.12 120.2,549.2 C122.23,545.28 124.77,540.77 127,536.5 C129.23,532.23 131.68,527.35 133.6,523.6 C135.52,519.85 136.92,516.77 138.5,514 C140.08,511.23 141,509.23 143.1,507 C145.2,504.77 148.42,502.12 151.1,500.6 C153.78,499.08 155.55,498.4 159.2,497.9 C162.85,497.4 166.2,497.7 173,497.6 C179.8,497.5 190.5,497.53 200,497.3 C209.5,497.07 220.67,496.62 230,496.2 C239.33,495.78 251.67,495.03 256,494.8" fill="none" stroke="#a6a6a6" stroke-width="2.6" stroke-linecap="butt" />
<path d="M70.8,652.5 C72,649.97 75.47,642.45 78,637.3 C80.53,632.15 83.23,627.28 86,621.6 C88.77,615.92 91.57,609.63 94.6,603.2 C97.63,596.77 101.47,588.78 104.2,583 C106.93,577.22 109.23,572.5 111,568.5 C112.77,564.5 113.27,562.38 114.8,559 C116.33,555.62 118.17,552.15 120.2,548.2 C122.23,544.25 124.77,539.6 127,535.3 C129.23,531 131.68,526.15 133.6,522.4 C135.52,518.65 136.8,515.6 138.5,512.8 C140.2,510 141.47,507.9 143.8,505.6 C146.13,503.3 149.72,500.5 152.5,499 C155.28,497.5 156.75,497.05 160.5,496.6 C164.25,496.15 168.42,496.3 175,496.3 C181.58,496.3 190.83,496.72 200,496.6 C209.17,496.48 220.67,495.92 230,495.6 C239.33,495.28 251.67,494.85 256,494.7" fill="none" stroke="#9a9a9a" stroke-width="1.7" stroke-linecap="butt" stroke-dasharray="3.4 2"/>
<path d="M70.8,652 C72,649.42 75.47,641.75 78,636.5 C80.53,631.25 83.23,626.25 86,620.5 C88.77,614.75 91.57,608.5 94.6,602 C97.63,595.5 101.47,587.33 104.2,581.5 C106.93,575.67 109.23,571 111,567 C112.77,563 113.27,560.87 114.8,557.5 C116.33,554.13 118.17,550.72 120.2,546.8 C122.23,542.88 124.77,538.3 127,534 C129.23,529.7 131.68,524.75 133.6,521 C135.52,517.25 136.7,514.53 138.5,511.5 C140.3,508.47 141.85,505.27 144.4,502.8 C146.95,500.33 150.88,498.05 153.8,496.7 C156.72,495.35 158.37,495.12 161.9,494.7 C165.43,494.28 168.65,494.15 175,494.2 C181.35,494.25 190.83,494.9 200,495 C209.17,495.1 220.67,494.88 230,494.8 C239.33,494.72 251.67,494.55 256,494.5" fill="none" stroke="#9a9a9a" stroke-width="1.7" stroke-linecap="butt" stroke-dasharray="1.4 1.3"/>
<path d="M70.8,654.6 C72.85,653.07 79,648.47 83.1,645.4 C87.2,642.33 91.82,639.28 95.4,636.2 C98.98,633.12 101.97,629.98 104.6,626.9 C107.23,623.82 108.95,621.48 111.2,617.7 C113.45,613.92 116.08,608.32 118.1,604.2 C120.12,600.08 121.38,597.17 123.3,593 C125.22,588.83 127.68,583.42 129.6,579.2 C131.52,574.98 133.52,570.57 134.8,567.7 C136.08,564.83 136.25,563.98 137.3,562 C138.35,560.02 139.6,558.18 141.1,555.8 C142.6,553.42 144.5,550.2 146.3,547.7 C148.1,545.2 149.82,542.92 151.9,540.8 C153.98,538.68 156.48,536.73 158.8,535 C161.12,533.27 163.1,532.18 165.8,530.4 C168.5,528.62 171.87,526.48 175,524.3 C178.13,522.12 181.47,519.43 184.6,517.3 C187.73,515.17 190.92,513.13 193.8,511.5 C196.68,509.87 199.33,508.72 201.9,507.5 C204.47,506.28 206.43,505.42 209.2,504.2 C211.97,502.98 215.23,501.25 218.5,500.2 C221.77,499.15 225.73,498.58 228.8,497.9 C231.87,497.22 232.47,496.68 236.9,496.1 C241.33,495.52 252.32,494.68 255.4,494.4" fill="none" stroke="#111" stroke-width="2.6" stroke-linecap="butt" />
<path d="M70.8,654 C71.83,652.75 74.43,649.25 77,646.5 C79.57,643.75 83.38,640.53 86.2,637.5 C89.02,634.47 91.33,632.08 93.9,628.3 C96.47,624.52 98.87,619.45 101.6,614.8 C104.33,610.15 107.57,605.05 110.3,600.4 C113.03,595.75 115.77,591.38 118,586.9 C120.23,582.42 121.83,577.6 123.7,573.5 C125.57,569.4 127.62,566.05 129.2,562.3 C130.78,558.55 131.7,554.72 133.2,551 C134.7,547.28 136.58,543.25 138.2,540 C139.82,536.75 141.4,534.08 142.9,531.5 C144.4,528.92 145.63,526.7 147.2,524.5 C148.77,522.3 150.67,520.13 152.3,518.3 C153.93,516.47 154.88,515.2 157,513.5 C159.12,511.8 162.32,509.68 165,508.1 C167.68,506.52 170.22,505.15 173.1,504 C175.98,502.85 179.42,501.97 182.3,501.2 C185.18,500.43 187.13,499.8 190.4,499.4 C193.67,499 197.8,498.95 201.9,498.8 C206,498.65 210.32,498.72 215,498.5 C219.68,498.28 223.17,498.17 230,497.5 C236.83,496.83 251.67,495 256,494.5" fill="none" stroke="#111" stroke-width="2.4" stroke-linecap="butt" stroke-dasharray="2 2.6"/>
<path d="M70.8,654 C71.57,653.08 73.48,650.83 75.4,648.5 C77.32,646.17 79.92,643.37 82.3,640 C84.68,636.63 87.03,633.13 89.7,628.3 C92.37,623.47 95.25,616.45 98.3,611 C101.35,605.55 105.27,600.42 108,595.6 C110.73,590.78 112.67,586.27 114.7,582.1 C116.73,577.93 118.48,574.28 120.2,570.6 C121.92,566.92 123.65,563.38 125,560 C126.35,556.62 127.13,553.55 128.3,550.3 C129.47,547.05 130.7,543.63 132,540.5 C133.3,537.37 134.85,533.95 136.1,531.5 C137.35,529.05 138.25,527.72 139.5,525.8 C140.75,523.88 141.85,522.77 143.6,520 C145.35,517.23 147.78,511.95 150,509.2 C152.22,506.45 154.4,505.23 156.9,503.5 C159.4,501.77 161.92,500.15 165,498.8 C168.08,497.45 172.13,496.35 175.4,495.4 C178.67,494.45 181.53,493.58 184.6,493.1 C187.67,492.62 190.72,492.5 193.8,492.5 C196.88,492.5 199.57,492.88 203.1,493.1 C206.63,493.32 209.68,493.65 215,493.8 C220.32,493.95 228.17,493.88 235,494 C241.83,494.12 252.5,494.42 256,494.5" fill="none" stroke="#111" stroke-width="2.4" stroke-linecap="butt" stroke-dasharray="4.5 2.6"/>
<text x="217.1" y="559" font-size="11.4" text-anchor="end" fill="#1c1c1c" stroke="#1c1c1c" font-weight="normal" >Control</text>
<text x="217.1" y="576.9" font-size="11.4" text-anchor="end" fill="#1c1c1c" stroke="#1c1c1c" font-weight="normal" >CK 20 <tspan font-family="Liberation Serif">μ</tspan>M</text>
<text x="217.1" y="595.2" font-size="11.4" text-anchor="end" fill="#1c1c1c" stroke="#1c1c1c" font-weight="normal" >CK 40 <tspan font-family="Liberation Serif">μ</tspan>M</text>
<text x="217.1" y="612.9" font-size="11.4" text-anchor="end" fill="#1c1c1c" stroke="#1c1c1c" font-weight="normal" >CA-WASp</text>
<text x="217.1" y="631.1" font-size="11.4" text-anchor="end" fill="#1c1c1c" stroke="#1c1c1c" font-weight="normal" >+ CK20 <tspan font-family="Liberation Serif">μ</tspan>M</text>
<text x="217.1" y="649.6" font-size="11.4" text-anchor="end" fill="#1c1c1c" stroke="#1c1c1c" font-weight="normal" >+ CK40 <tspan font-family="Liberation Serif">μ</tspan>M</text>
<line x1="221.2" y1="555" x2="246.5" y2="555" stroke="#a6a6a6" stroke-width="2.4" />
<line x1="221.2" y1="573.5" x2="246.5" y2="573.5" stroke="#9a9a9a" stroke-width="1.8" stroke-dasharray="1.4 1.3"/>
<line x1="221.2" y1="591.4" x2="246.5" y2="591.4" stroke="#9a9a9a" stroke-width="1.8" stroke-dasharray="3.4 2"/>
<line x1="221.2" y1="609.4" x2="246.5" y2="609.4" stroke="#111" stroke-width="2.6" />
<line x1="221.2" y1="628" x2="246.5" y2="628" stroke="#111" stroke-width="2.4" stroke-dasharray="2 2.4"/>
<line x1="221.2" y1="646" x2="246.5" y2="646" stroke="#111" stroke-width="2.4" stroke-dasharray="4.5 2.4"/>
<line x1="254.2" y1="604.9" x2="254.2" y2="612.9" stroke="#111" stroke-width="1.45" stroke-linecap="butt"/>
<line x1="250.74" y1="606.9" x2="257.66" y2="610.9" stroke="#111" stroke-width="1.45" stroke-linecap="butt"/>
<line x1="250.74" y1="610.9" x2="257.66" y2="606.9" stroke="#111" stroke-width="1.45" stroke-linecap="butt"/>
<text x="250.8" y="650.8" font-size="12" text-anchor="start" fill="#1c1c1c" font-weight="bold" >#</text>
<text x="278" y="480.8" font-size="26" text-anchor="start" fill="#111" font-weight="bold" >E</text>
<text transform="translate(304.2,569.4) rotate(-90)" font-size="16" text-anchor="middle" fill="#1c1c1c" stroke="#1c1c1c" >Speed (nm/s)</text>
<line x1="336.3" y1="508.2" x2="336.3" y2="639" stroke="#111" stroke-width="2.0" />
<line x1="335.4" y1="635.4" x2="497" y2="635.4" stroke="#111" stroke-width="2.1" />
<line x1="332.5" y1="635.4" x2="336.3" y2="635.4" stroke="#111" stroke-width="1.5" />
<text x="329.7" y="640" font-size="13" text-anchor="end" fill="#1c1c1c" stroke="#1c1c1c" font-weight="normal" >10</text>
<line x1="332.5" y1="603.75" x2="336.3" y2="603.75" stroke="#111" stroke-width="1.5" />
<text x="329.7" y="608.35" font-size="13" text-anchor="end" fill="#1c1c1c" stroke="#1c1c1c" font-weight="normal" >20</text>
<line x1="332.5" y1="572.1" x2="336.3" y2="572.1" stroke="#111" stroke-width="1.5" />
<text x="329.7" y="576.7" font-size="13" text-anchor="end" fill="#1c1c1c" stroke="#1c1c1c" font-weight="normal" >30</text>
<line x1="332.5" y1="540.45" x2="336.3" y2="540.45" stroke="#111" stroke-width="1.5" />
<text x="329.7" y="545.05" font-size="13" text-anchor="end" fill="#1c1c1c" stroke="#1c1c1c" font-weight="normal" >40</text>
<line x1="332.5" y1="508.8" x2="336.3" y2="508.8" stroke="#111" stroke-width="1.5" />
<text x="329.7" y="513.4" font-size="13" text-anchor="end" fill="#1c1c1c" stroke="#1c1c1c" font-weight="normal" >50</text>
<line x1="355.2" y1="525.2" x2="355.2" y2="536.5" stroke="#111" stroke-width="1.85" />
<line x1="355.2" y1="561.1" x2="355.2" y2="569.7" stroke="#111" stroke-width="1.85" />
<line x1="350" y1="525.2" x2="360.4" y2="525.2" stroke="#111" stroke-width="1.85" />
<line x1="350" y1="569.7" x2="360.4" y2="569.7" stroke="#111" stroke-width="1.85" />
<rect x="346.9" y="536.5" width="15.9" height="24.6" fill="#d6d6d6" stroke="#111" stroke-width="1.85"/>
<line x1="346.9" y1="547.7" x2="362.8" y2="547.7" stroke="#111" stroke-width="1.85" />
<line x1="381.3" y1="533.6" x2="381.3" y2="548.7" stroke="#111" stroke-width="1.85" />
<line x1="381.3" y1="569.7" x2="381.3" y2="586.5" stroke="#111" stroke-width="1.85" />
<line x1="376.1" y1="533.6" x2="386.5" y2="533.6" stroke="#111" stroke-width="1.85" />
<line x1="376.1" y1="586.5" x2="386.5" y2="586.5" stroke="#111" stroke-width="1.85" />
<rect x="373.2" y="548.7" width="15.8" height="21" fill="#d6d6d6" stroke="#111" stroke-width="1.85"/>
<line x1="373.2" y1="558.1" x2="389" y2="558.1" stroke="#111" stroke-width="1.85" />
<line x1="406.7" y1="542" x2="406.7" y2="547.3" stroke="#111" stroke-width="1.85" />
<line x1="406.7" y1="572" x2="406.7" y2="590.5" stroke="#111" stroke-width="1.85" />
<line x1="401.5" y1="542" x2="411.9" y2="542" stroke="#111" stroke-width="1.85" />
<line x1="401.5" y1="590.5" x2="411.9" y2="590.5" stroke="#111" stroke-width="1.85" />
<rect x="398.2" y="547.3" width="16.1" height="24.7" fill="#d6d6d6" stroke="#111" stroke-width="1.85"/>
<line x1="398.2" y1="558.8" x2="414.3" y2="558.8" stroke="#111" stroke-width="1.85" />
<line x1="431.9" y1="548.9" x2="431.9" y2="558.6" stroke="#111" stroke-width="1.85" />
<line x1="431.9" y1="585.2" x2="431.9" y2="600.4" stroke="#111" stroke-width="1.85" />
<line x1="426.7" y1="548.9" x2="437.1" y2="548.9" stroke="#111" stroke-width="1.85" />
<line x1="426.7" y1="600.4" x2="437.1" y2="600.4" stroke="#111" stroke-width="1.85" />
<rect x="424.2" y="558.6" width="15.5" height="26.6" fill="#d6d6d6" stroke="#111" stroke-width="1.85"/>
<line x1="424.2" y1="572" x2="439.7" y2="572" stroke="#111" stroke-width="1.85" />
<line x1="457.7" y1="542.7" x2="457.7" y2="551.2" stroke="#111" stroke-width="1.85" />
<line x1="457.7" y1="582.4" x2="457.7" y2="591.2" stroke="#111" stroke-width="1.85" />
<line x1="452.5" y1="542.7" x2="462.9" y2="542.7" stroke="#111" stroke-width="1.85" />
<line x1="452.5" y1="591.2" x2="462.9" y2="591.2" stroke="#111" stroke-width="1.85" />
<rect x="450.1" y="551.2" width="15.7" height="31.2" fill="#d6d6d6" stroke="#111" stroke-width="1.85"/>
<line x1="450.1" y1="565" x2="465.8" y2="565" stroke="#111" stroke-width="1.85" />
<line x1="483.6" y1="532.3" x2="483.6" y2="542.7" stroke="#111" stroke-width="1.85" />
<line x1="483.6" y1="572" x2="483.6" y2="585.8" stroke="#111" stroke-width="1.85" />
<line x1="478.4" y1="532.3" x2="488.8" y2="532.3" stroke="#111" stroke-width="1.85" />
<line x1="478.4" y1="585.8" x2="488.8" y2="585.8" stroke="#111" stroke-width="1.85" />
<rect x="475.8" y="542.7" width="15.9" height="29.3" fill="#d6d6d6" stroke="#111" stroke-width="1.85"/>
<line x1="475.8" y1="558.1" x2="491.7" y2="558.1" stroke="#111" stroke-width="1.85" />
<line x1="356" y1="505.9" x2="409" y2="505.9" stroke="#111" stroke-width="1.7" />
<line x1="383.9" y1="505.9" x2="383.9" y2="511.7" stroke="#111" stroke-width="1.7" />
<line x1="409" y1="505.9" x2="409" y2="511.7" stroke="#111" stroke-width="1.7" />
<line x1="432.9" y1="514.5" x2="484.8" y2="514.5" stroke="#111" stroke-width="1.7" />
<line x1="484.8" y1="514.5" x2="484.8" y2="520.5" stroke="#111" stroke-width="1.7" />
<line x1="353.6" y1="616.3" x2="433.5" y2="616.3" stroke="#111" stroke-width="1.7" />
<line x1="433.5" y1="616.3" x2="433.5" y2="609.7" stroke="#111" stroke-width="1.7" />
<text x="375.2" y="501.6" font-size="11.3" text-anchor="middle" fill="#1c1c1c" stroke="#1c1c1c" font-weight="normal" >p&lt;0.005</text>
<text x="452.4" y="510.2" font-size="11.3" text-anchor="middle" fill="#1c1c1c" stroke="#1c1c1c" font-weight="normal" >p&lt;0.005</text>
<text x="387.2" y="629.2" font-size="11.3" text-anchor="middle" fill="#1c1c1c" stroke="#1c1c1c" font-weight="normal" >p&lt;0.001</text>
<text transform="translate(358.4,641.5) rotate(-90)" font-size="13.9" text-anchor="end" fill="#1c1c1c" stroke="#1c1c1c" >Control</text>
<text transform="translate(385,641.5) rotate(-90)" font-size="13.9" text-anchor="end" fill="#1c1c1c" stroke="#1c1c1c" >20 <tspan font-family="Liberation Serif">μ</tspan>M</text>
<text transform="translate(411.5,641.5) rotate(-90)" font-size="13.9" text-anchor="end" fill="#1c1c1c" stroke="#1c1c1c" >40 <tspan font-family="Liberation Serif">μ</tspan>M</text>
<text transform="translate(435.6,641.5) rotate(-90)" font-size="13.9" text-anchor="end" fill="#1c1c1c" stroke="#1c1c1c" >CA-WASP</text>
<text transform="translate(462.6,641.5) rotate(-90)" font-size="13.9" text-anchor="end" fill="#1c1c1c" stroke="#1c1c1c" >+20 <tspan font-family="Liberation Serif">μ</tspan>M</text>
<text transform="translate(488.5,641.5) rotate(-90)" font-size="13.9" text-anchor="end" fill="#1c1c1c" stroke="#1c1c1c" >+40 <tspan font-family="Liberation Serif">μ</tspan>M</text>
<text x="4.35" y="737.8" font-size="26" text-anchor="start" fill="#111" font-weight="bold" >F</text>
<rect x="67.4" y="752.8" width="172.6" height="139.5" fill="none" stroke="#111" stroke-width="2.6"/>
<line x1="64.4" y1="883" x2="67.4" y2="883" stroke="#111" stroke-width="1.3" />
<line x1="237" y1="883" x2="240" y2="883" stroke="#111" stroke-width="1.3" />
<line x1="64.4" y1="873" x2="67.4" y2="873" stroke="#111" stroke-width="1.3" />
<line x1="237" y1="873" x2="240" y2="873" stroke="#111" stroke-width="1.3" />
<line x1="64.4" y1="863" x2="67.4" y2="863" stroke="#111" stroke-width="1.3" />
<line x1="237" y1="863" x2="240" y2="863" stroke="#111" stroke-width="1.3" />
<line x1="64.4" y1="853" x2="67.4" y2="853" stroke="#111" stroke-width="1.3" />
<line x1="237" y1="853" x2="240" y2="853" stroke="#111" stroke-width="1.3" />
<line x1="64.4" y1="843" x2="67.4" y2="843" stroke="#111" stroke-width="1.3" />
<line x1="237" y1="843" x2="240" y2="843" stroke="#111" stroke-width="1.3" />
<line x1="64.4" y1="833" x2="67.4" y2="833" stroke="#111" stroke-width="1.3" />
<line x1="237" y1="833" x2="240" y2="833" stroke="#111" stroke-width="1.3" />
<line x1="64.4" y1="823" x2="67.4" y2="823" stroke="#111" stroke-width="1.3" />
<line x1="237" y1="823" x2="240" y2="823" stroke="#111" stroke-width="1.3" />
<line x1="64.4" y1="813" x2="67.4" y2="813" stroke="#111" stroke-width="1.3" />
<line x1="237" y1="813" x2="240" y2="813" stroke="#111" stroke-width="1.3" />
<line x1="64.4" y1="803" x2="67.4" y2="803" stroke="#111" stroke-width="1.3" />
<line x1="237" y1="803" x2="240" y2="803" stroke="#111" stroke-width="1.3" />
<line x1="64.4" y1="793" x2="67.4" y2="793" stroke="#111" stroke-width="1.3" />
<line x1="237" y1="793" x2="240" y2="793" stroke="#111" stroke-width="1.3" />
<line x1="64.4" y1="783" x2="67.4" y2="783" stroke="#111" stroke-width="1.3" />
<line x1="237" y1="783" x2="240" y2="783" stroke="#111" stroke-width="1.3" />
<line x1="64.4" y1="773" x2="67.4" y2="773" stroke="#111" stroke-width="1.3" />
<line x1="237" y1="773" x2="240" y2="773" stroke="#111" stroke-width="1.3" />
<line x1="64.4" y1="763" x2="67.4" y2="763" stroke="#111" stroke-width="1.3" />
<line x1="237" y1="763" x2="240" y2="763" stroke="#111" stroke-width="1.3" />
<line x1="85.6" y1="892.3" x2="85.6" y2="895.3" stroke="#111" stroke-width="1.3" />
<line x1="85.6" y1="752.8" x2="85.6" y2="755.8" stroke="#111" stroke-width="1.3" />
<line x1="102.9" y1="892.3" x2="102.9" y2="895.3" stroke="#111" stroke-width="1.3" />
<line x1="102.9" y1="752.8" x2="102.9" y2="755.8" stroke="#111" stroke-width="1.3" />
<line x1="120.2" y1="892.3" x2="120.2" y2="895.3" stroke="#111" stroke-width="1.3" />
<line x1="120.2" y1="752.8" x2="120.2" y2="755.8" stroke="#111" stroke-width="1.3" />
<line x1="137.5" y1="892.3" x2="137.5" y2="895.3" stroke="#111" stroke-width="1.3" />
<line x1="137.5" y1="752.8" x2="137.5" y2="755.8" stroke="#111" stroke-width="1.3" />
<line x1="154.8" y1="892.3" x2="154.8" y2="895.3" stroke="#111" stroke-width="1.3" />
<line x1="154.8" y1="752.8" x2="154.8" y2="755.8" stroke="#111" stroke-width="1.3" />
<line x1="172.1" y1="892.3" x2="172.1" y2="895.3" stroke="#111" stroke-width="1.3" />
<line x1="172.1" y1="752.8" x2="172.1" y2="755.8" stroke="#111" stroke-width="1.3" />
<line x1="189.4" y1="892.3" x2="189.4" y2="895.3" stroke="#111" stroke-width="1.3" />
<line x1="189.4" y1="752.8" x2="189.4" y2="755.8" stroke="#111" stroke-width="1.3" />
<line x1="206.7" y1="892.3" x2="206.7" y2="895.3" stroke="#111" stroke-width="1.3" />
<line x1="206.7" y1="752.8" x2="206.7" y2="755.8" stroke="#111" stroke-width="1.3" />
<line x1="224" y1="892.3" x2="224" y2="895.3" stroke="#111" stroke-width="1.3" />
<line x1="224" y1="752.8" x2="224" y2="755.8" stroke="#111" stroke-width="1.3" />
<text x="62.2" y="766.6" font-size="13.8" text-anchor="end" fill="#1c1c1c" stroke="#1c1c1c" font-weight="normal" >1.0</text>
<text x="62.2" y="787.5" font-size="13.8" text-anchor="end" fill="#1c1c1c" stroke="#1c1c1c" font-weight="normal" >0.9</text>
<text x="62.2" y="808.4" font-size="13.8" text-anchor="end" fill="#1c1c1c" stroke="#1c1c1c" font-weight="normal" >0.8</text>
<text x="62.2" y="829.3" font-size="13.8" text-anchor="end" fill="#1c1c1c" stroke="#1c1c1c" font-weight="normal" >0.7</text>
<text x="62.2" y="850.2" font-size="13.8" text-anchor="end" fill="#1c1c1c" stroke="#1c1c1c" font-weight="normal" >0.6</text>
<text x="62.2" y="871.1" font-size="13.8" text-anchor="end" fill="#1c1c1c" stroke="#1c1c1c" font-weight="normal" >0.5</text>
<text x="62.2" y="892" font-size="13.8" text-anchor="end" fill="#1c1c1c" stroke="#1c1c1c" font-weight="normal" >0.4</text>
<text x="85.6" y="909.6" font-size="13.9" text-anchor="middle" fill="#1c1c1c" stroke="#1c1c1c" font-weight="normal" >0.80</text>
<text x="120.2" y="909.6" font-size="13.9" text-anchor="middle" fill="#1c1c1c" stroke="#1c1c1c" font-weight="normal" >0.85</text>
<text x="154.8" y="909.6" font-size="13.9" text-anchor="middle" fill="#1c1c1c" stroke="#1c1c1c" font-weight="normal" >0.90</text>
<text x="189.4" y="909.6" font-size="13.9" text-anchor="middle" fill="#1c1c1c" stroke="#1c1c1c" font-weight="normal" >0.95</text>
<text x="224" y="909.6" font-size="13.9" text-anchor="middle" fill="#1c1c1c" stroke="#1c1c1c" font-weight="normal" >1.00</text>
<text transform="translate(32.3,824) rotate(-90)" font-size="16" text-anchor="middle" fill="#1c1c1c" stroke="#1c1c1c" >Normalised 1 / viscosity</text>
<text x="153.5" y="937.7" font-size="16" text-anchor="middle" fill="#1c1c1c" stroke="#1c1c1c" font-weight="normal" >Normalised chromatid</text>
<text x="154.6" y="958.6" font-size="16" text-anchor="middle" fill="#1c1c1c" stroke="#1c1c1c" font-weight="normal" >speed V / Vcontrol</text>
<line x1="80.3" y1="869.6" x2="225.2" y2="771" stroke="#111" stroke-width="3.6" />
<polyline points="81.5,862 125,842.3 174.7,818.2 223.1,762.5" fill="none" stroke="#111" stroke-width="2.4" stroke-linejoin="round" stroke-dasharray="2.6 1.8"/>
<rect x="77.4" y="857.9" width="8.2" height="8.2" fill="#111"/>
<rect x="219.2" y="758.6" width="7.8" height="7.8" fill="#111"/>
<rect x="122.2" y="839.5" width="5.6" height="5.6" fill="#8a8a8a" stroke="#555" stroke-width="1.3"/>
<rect x="171.9" y="815.4" width="5.6" height="5.6" fill="#e6e6e6" stroke="#666" stroke-width="1.4"/>
<text x="194.2" y="768.4" font-size="13.1" text-anchor="middle" fill="#1c1c1c" stroke="#1c1c1c" font-weight="normal" >Control</text>
<line x1="216.4" y1="759.3" x2="216.4" y2="768.2" stroke="#111" stroke-width="1.4" />
<text x="201.6" y="835.4" font-size="13.5" text-anchor="middle" fill="#8a8a8a" stroke="#8a8a8a" font-weight="normal" >+ 40 <tspan font-family="Liberation Serif">μ</tspan>M CK</text>
<text x="154.8" y="858.6" font-size="13.5" text-anchor="middle" fill="#8a8a8a" stroke="#8a8a8a" font-weight="normal" >+ 20 <tspan font-family="Liberation Serif">μ</tspan>M CK</text>
<text x="109.7" y="883.3" font-size="13.3" text-anchor="middle" fill="#1c1c1c" stroke="#1c1c1c" font-weight="normal" >CA-WASp</text>
<text x="263.3" y="734.3" font-size="26" text-anchor="start" fill="#111" font-weight="bold" >G</text>
<text transform="translate(285.7,812.2) rotate(-90)" font-size="16" text-anchor="middle" fill="#1c1c1c" stroke="#1c1c1c" >Period (s)</text>
<line x1="317.6" y1="742.6" x2="317.6" y2="904.5" stroke="#111" stroke-width="1.9" />
<line x1="316.7" y1="903.6" x2="520" y2="903.6" stroke="#111" stroke-width="1.9" />
<line x1="313.8" y1="903.6" x2="317.6" y2="903.6" stroke="#111" stroke-width="1.6" />
<text x="311.2" y="908.2" font-size="13" text-anchor="end" fill="#1c1c1c" stroke="#1c1c1c" font-weight="normal" >0</text>
<line x1="313.8" y1="850.1" x2="317.6" y2="850.1" stroke="#111" stroke-width="1.6" />
<text x="311.2" y="854.7" font-size="13" text-anchor="end" fill="#1c1c1c" stroke="#1c1c1c" font-weight="normal" >50</text>
<line x1="313.8" y1="796.6" x2="317.6" y2="796.6" stroke="#111" stroke-width="1.6" />
<text x="311.2" y="801.2" font-size="13" text-anchor="end" fill="#1c1c1c" stroke="#1c1c1c" font-weight="normal" >100</text>
<line x1="313.8" y1="743.1" x2="317.6" y2="743.1" stroke="#111" stroke-width="1.6" />
<text x="311.2" y="747.7" font-size="13" text-anchor="end" fill="#1c1c1c" stroke="#1c1c1c" font-weight="normal" >150</text>
<line x1="342" y1="768.75" x2="342" y2="783.25" stroke="#111" stroke-width="2.05" />
<line x1="342" y1="823.75" x2="342" y2="832" stroke="#111" stroke-width="2.05" />
<line x1="335" y1="768.75" x2="349" y2="768.75" stroke="#111" stroke-width="2.05" />
<line x1="335" y1="832" x2="349" y2="832" stroke="#111" stroke-width="2.05" />
<rect x="329.5" y="783.25" width="25" height="40.5" fill="#d6d6d6" stroke="#111" stroke-width="2.05"/>
<line x1="329.5" y1="804" x2="354.5" y2="804" stroke="#111" stroke-width="2.05" />
<line x1="342" y1="903.6" x2="342" y2="909.4" stroke="#111" stroke-width="1.6" />
<line x1="380.3" y1="766.75" x2="380.3" y2="785.5" stroke="#111" stroke-width="2.05" />
<line x1="380.3" y1="807.5" x2="380.3" y2="823" stroke="#111" stroke-width="2.05" />
<line x1="373.3" y1="766.75" x2="387.3" y2="766.75" stroke="#111" stroke-width="2.05" />
<line x1="373.3" y1="823" x2="387.3" y2="823" stroke="#111" stroke-width="2.05" />
<rect x="368" y="785.5" width="24.5" height="22" fill="#d6d6d6" stroke="#111" stroke-width="2.05"/>
<line x1="368" y1="795.5" x2="392.5" y2="795.5" stroke="#111" stroke-width="2.05" />
<line x1="380.3" y1="903.6" x2="380.3" y2="909.4" stroke="#111" stroke-width="1.6" />
<line x1="418.3" y1="760.5" x2="418.3" y2="783.4" stroke="#111" stroke-width="2.05" />
<line x1="418.3" y1="815.8" x2="418.3" y2="823.3" stroke="#111" stroke-width="2.05" />
<line x1="411.3" y1="760.5" x2="425.3" y2="760.5" stroke="#111" stroke-width="2.05" />
<line x1="411.3" y1="823.3" x2="425.3" y2="823.3" stroke="#111" stroke-width="2.05" />
<rect x="406" y="783.4" width="24.3" height="32.4" fill="#d6d6d6" stroke="#111" stroke-width="2.05"/>
<line x1="406" y1="808" x2="430.3" y2="808" stroke="#111" stroke-width="2.05" />
<line x1="418.3" y1="903.6" x2="418.3" y2="909.4" stroke="#111" stroke-width="1.6" />
<line x1="456.1" y1="751.6" x2="456.1" y2="765.7" stroke="#111" stroke-width="2.05" />
<line x1="456.1" y1="793.9" x2="456.1" y2="807.8" stroke="#111" stroke-width="2.05" />
<line x1="449.1" y1="751.6" x2="463.1" y2="751.6" stroke="#111" stroke-width="2.05" />
<line x1="449.1" y1="807.8" x2="463.1" y2="807.8" stroke="#111" stroke-width="2.05" />
<rect x="444.3" y="765.7" width="24.5" height="28.2" fill="#d6d6d6" stroke="#111" stroke-width="2.05"/>
<line x1="444.3" y1="775.9" x2="468.8" y2="775.9" stroke="#111" stroke-width="2.05" />
<line x1="456.1" y1="903.6" x2="456.1" y2="909.4" stroke="#111" stroke-width="1.6" />
<line x1="494.7" y1="760" x2="494.7" y2="775.9" stroke="#111" stroke-width="2.05" />
<line x1="494.7" y1="807.8" x2="494.7" y2="823.5" stroke="#111" stroke-width="2.05" />
<line x1="487.7" y1="760" x2="501.7" y2="760" stroke="#111" stroke-width="2.05" />
<line x1="487.7" y1="823.5" x2="501.7" y2="823.5" stroke="#111" stroke-width="2.05" />
<rect x="482.7" y="775.9" width="24.7" height="31.9" fill="#d6d6d6" stroke="#111" stroke-width="2.05"/>
<line x1="482.7" y1="792.1" x2="507.4" y2="792.1" stroke="#111" stroke-width="2.05" />
<line x1="494.7" y1="903.6" x2="494.7" y2="909.4" stroke="#111" stroke-width="1.6" />
<line x1="342.3" y1="845.7" x2="455.6" y2="845.7" stroke="#111" stroke-width="1.6" />
<line x1="342.3" y1="845.7" x2="342.3" y2="838.8" stroke="#111" stroke-width="1.6" />
<line x1="455.6" y1="845.7" x2="455.6" y2="838.8" stroke="#111" stroke-width="1.6" />
<line x1="456.1" y1="741.9" x2="494.7" y2="741.9" stroke="#111" stroke-width="1.6" />
<line x1="456.1" y1="741.9" x2="456.1" y2="749.6" stroke="#111" stroke-width="1.6" />
<line x1="494.7" y1="741.9" x2="494.7" y2="749.6" stroke="#111" stroke-width="1.6" />
<text x="392.5" y="861.1" font-size="13" text-anchor="middle" fill="#1c1c1c" stroke="#1c1c1c" font-weight="normal" >p&lt;0.001</text>
<text x="468.1" y="738.1" font-size="13.5" text-anchor="middle" fill="#1c1c1c" stroke="#1c1c1c" font-weight="normal" >p&lt;0.05</text>
<text transform="translate(346.2,911.6) rotate(-90)" font-size="14" text-anchor="end" fill="#1c1c1c" stroke="#1c1c1c" >Control</text>
<text transform="translate(384.5,911.6) rotate(-90)" font-size="14" text-anchor="end" fill="#1c1c1c" stroke="#1c1c1c" >mCherry</text>
<text transform="translate(422.6,911.6) rotate(-90)" font-size="14" text-anchor="end" fill="#1c1c1c" stroke="#1c1c1c" >WASP</text>
<text transform="translate(460.1,911.6) rotate(-90)" font-size="14" text-anchor="end" fill="#1c1c1c" stroke="#1c1c1c" >CA-WASP</text>
<text transform="translate(489.8,911.6) rotate(-90)" font-size="14" text-anchor="end" fill="#1c1c1c" stroke="#1c1c1c" >CA-WASP</text>
<text transform="translate(508.5,911.6) rotate(-90)" font-size="14" text-anchor="end" fill="#1c1c1c" stroke="#1c1c1c" >+40 uM CK666</text>
</svg></body></html>
